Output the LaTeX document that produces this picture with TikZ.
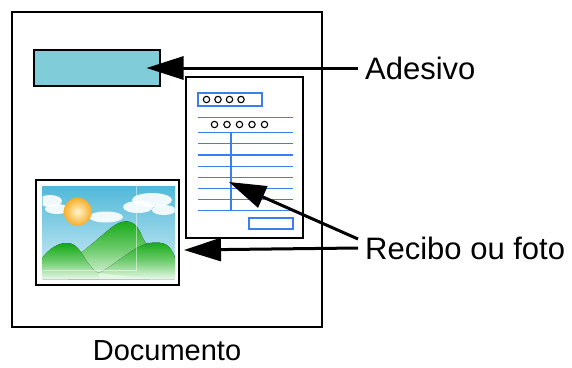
\documentclass[tikz,border=0pt]{standalone}
\usepackage{fontspec}
\setmainfont{Liberation Sans}
\usetikzlibrary{arrows.meta}

\definecolor{stickerblue}{HTML}{80CCD8}
\definecolor{formblue}{HTML}{3A7FF0}
\definecolor{skytop}{HTML}{4FB8D8}
\definecolor{skybottom}{HTML}{D6EFF7}
\definecolor{hilltop}{HTML}{12A812}
\definecolor{hillmid}{HTML}{6CCB6C}
\definecolor{hillbottom}{HTML}{E8F8E8}
\definecolor{sunin}{HTML}{FFF6CC}
\definecolor{sunout}{HTML}{F7AE2A}

\begin{document}
\begin{tikzpicture}[x=1pt, y=-1pt,
    box/.style={draw, line width=2pt, inner sep=0pt},
    label/.style={font=\fontsize{31}{36}\selectfont, inner sep=7pt},
    pointer/.style={line width=3pt, -{Triangle[length=37pt, width=23pt]}},
    form/.style={formblue, line width=1.2pt},
    hill/.style={top color=hilltop, bottom color=hillbottom, middle color=hillmid},
    cloud/.style={white, opacity=0.9}]
    \useasboundingbox (0,0) rectangle (572,367);

    \node[box, minimum width=310, minimum height=315] (doc) at (167,169.5) {};
    \node[box, fill=stickerblue, minimum width=126, minimum height=36] (sticker) at (97,68) {};
    \node[box, fill=white, minimum width=117, minimum height=161] (receipt) at (244.5,157.5) {};
    \node[box, fill=white, minimum width=143, minimum height=105] (photo) at (107.5,232.5) {};

    % Receipt form
    \draw[form] (198,93) rectangle (262,106);
    \foreach \x in {206.5,218,229.5,241}
        \draw[line width=1.1pt] (\x,99.5) circle (3.2);
    \draw[form] (198,117.5) -- (293,117.5);
    \foreach \x in {214.5,227,239.5,252,264.5}
        \draw[line width=1.1pt] (\x,124.5) circle (3.2);
    \foreach \i in {0,...,7}
        \draw[form] (198,132.7+11.14*\i) -- (293,132.7+11.14*\i);
    \draw[form] (231,132.7) -- (231,210.7);
    \draw[form] (249,218) rectangle (293,229);

    % Landscape in the photo
    \begin{scope}
        \clip (42.5,186) rectangle (174.5,279);
        \fill[top color=skytop, bottom color=skybottom] (42,185) rectangle (175,279);
        \fill[cloud] (50,201) ellipse (12 and 6);
        \fill[cloud] (57,209) ellipse (12 and 5);
        \fill[cloud] (106,217) ellipse (17 and 5.5);
        \fill[cloud] (152,200) ellipse (20 and 7);
        \fill[cloud] (138,207) ellipse (15 and 6);
        \fill[cloud] (164,210) ellipse (12 and 5);
        \shade[inner color=sunin, outer color=sunout] (77.7,211.7) circle (14);
        \fill[hill] (68,262) .. controls (95,244) and (110,226) .. (120,222.5)
            .. controls (130,219) and (137,224) .. (141,234)
            .. controls (144,241) and (146,244) .. (150,247) -- (150,279) -- (68,279) -- cycle;
        \fill[hill] (42,258) .. controls (50,248) and (58,243) .. (67,243)
            .. controls (78,243) and (82,255) .. (88,263)
            .. controls (92,268) and (95,272) .. (99,273) -- (99,279) -- (42,279) -- cycle;
        \fill[hill] (99,273) .. controls (115,265) and (135,245) .. (150,243)
            .. controls (165,241) and (170,245) .. (175,257) -- (175,279) -- (99,279) -- cycle;
        \fill[hillbottom, opacity=0.8] (99,273) .. controls (130,277) and (155,279) .. (175,279)
            -- (99,279) -- cycle;
        \draw[white, opacity=0.5, line width=0.6pt] (136,186) -- (136,270) -- (42,270);
    \end{scope}

    % Labels and pointers
    \node[label, anchor=west] (adesivo) at (358,68) {Adesivo};
    \node[label, anchor=west] (recibo) at (358,248) {Recibo ou foto};
    \node[label, inner sep=0pt, font=\fontsize{29}{34}\selectfont] (documento) at (167,351) {Documento};
    \coordinate (stickertip) at (146.5,68);
    \coordinate (receipttip) at (229,182);
    \coordinate (phototip) at (184,250);
    \draw[pointer] (adesivo.west) -- (stickertip);
    \draw[pointer] ([yshift=9pt]recibo.west) -- (receipttip);
    \draw[pointer] (recibo.west) -- (phototip);

\end{tikzpicture}
\end{document}
